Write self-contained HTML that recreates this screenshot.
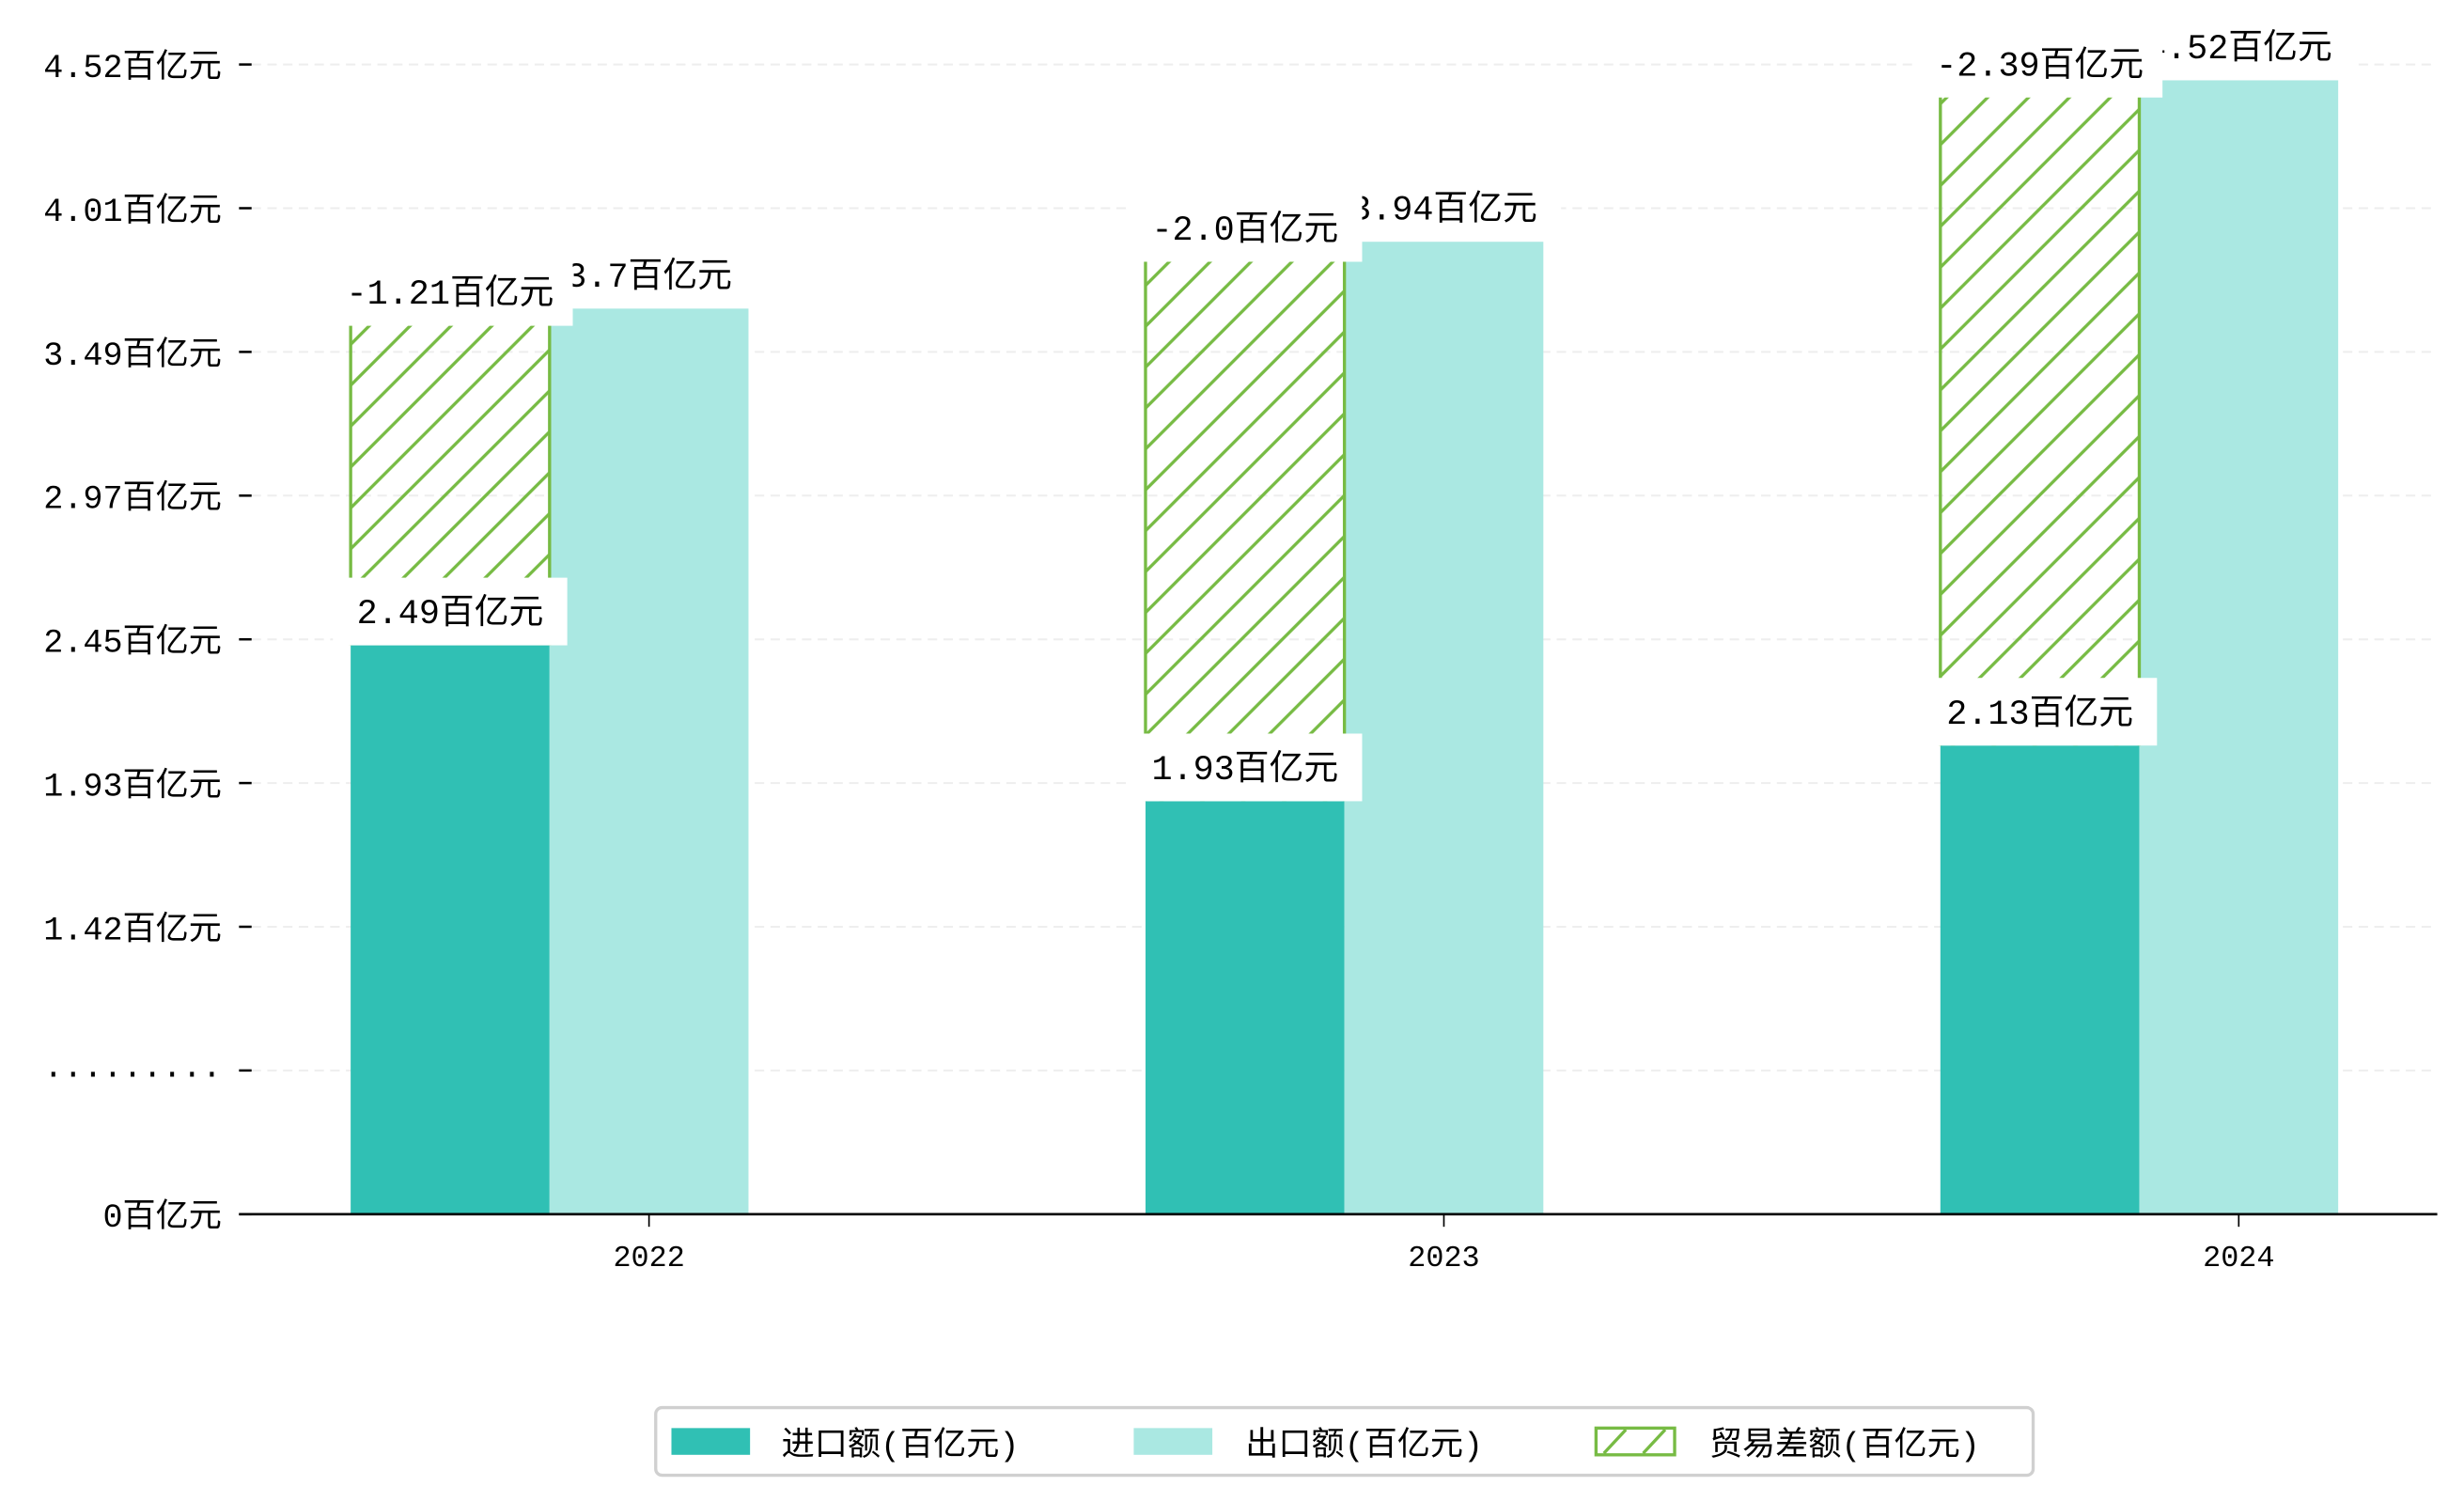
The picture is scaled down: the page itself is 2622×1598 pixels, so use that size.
<!DOCTYPE html>
<html><head><meta charset="utf-8"><style>
html,body{margin:0;padding:0;background:#fff;}
svg{display:block;}
text{font-family:"Liberation Mono","Noto Sans CJK SC",monospace;fill:#000;}
</style></head><body>
<svg id="chart" width="2622" height="1598" viewBox="0 0 1567 955" preserveAspectRatio="none" xmlns="http://www.w3.org/2000/svg">
<defs>
<pattern id="hatch" patternUnits="userSpaceOnUse" width="26" height="26">
<line x1="-2" y1="28" x2="28" y2="-2" stroke="#77bb44" stroke-width="2"/>
<line x1="-15" y1="15" x2="15" y2="-15" stroke="#77bb44" stroke-width="2"/>
<line x1="11" y1="41" x2="41" y2="11" stroke="#77bb44" stroke-width="2"/>
</pattern>
</defs>
<g id="grid"></g><g id="bars"></g><g id="labels"></g><g id="axes"></g>
<g id="legend">
<rect x="417" y="895" width="876" height="43" rx="4" fill="#fff" stroke="#d0d0d0" stroke-width="2"/>
<rect x="427" y="908" width="50" height="17" fill="#30c0b4"/>
<text x="497" y="925" font-size="21">进口额(百亿元)</text>
<rect x="721" y="908" width="50" height="17" fill="#aae8e2"/>
<text x="792" y="925" font-size="21">出口额(百亿元)</text>
<rect x="1015" y="908" width="50" height="17" fill="#fff" stroke="#77bb44" stroke-width="2"/>
<line x1="1020" y1="924" x2="1034" y2="909" stroke="#77bb44" stroke-width="2"/>
<line x1="1045" y1="924" x2="1059" y2="909" stroke="#77bb44" stroke-width="2"/>
<text x="1087" y="925" font-size="21">贸易差额(百亿元)</text>
</g>
</svg>
<script>
const categories = ["2022","2023","2024"];
const imports = [2.49, 1.93, 2.13];
const exports_ = [3.7, 3.94, 4.52];
const balance = [-1.21, -2.0, -2.39];
const yTickLabels = ["0百亿元","·········","1.42百亿元","1.93百亿元","2.45百亿元","2.97百亿元","3.49百亿元","4.01百亿元","4.52百亿元"];

const NS="http://www.w3.org/2000/svg";
const baseY=772, axisL=152, axisR=1550;
function yScale(v){ return 51 + (4.52 - v) * 177; }
function yTick(i){ return baseY - i * (baseY - 41) / (yTickLabels.length - 1); }
function xGroup(i){ return 223 + i * 505.5; }
const bw=126.5;
function mk(tag, attrs, parent){ const e=document.createElementNS(NS,tag); for(const k in attrs) e.setAttribute(k,attrs[k]); parent.appendChild(e); return e; }
const grid=document.getElementById('grid'), bars=document.getElementById('bars'), labels=document.getElementById('labels'), axes=document.getElementById('axes');

yTickLabels.forEach((t,i)=>{
  const y=yTick(i);
  if(i>0){ const g=mk('line',{x1:160,x2:axisR,y1:y,y2:y,stroke:'#eeeeee','stroke-width':1.2,'stroke-dasharray':'6,4'},grid);
      }
  const tk=mk('line',{x1:152,x2:160,y1:y,y2:y,stroke:'#000','stroke-width':1.5},axes);
   
  const tx=mk('text',{x:141,y:y+8,'text-anchor':'end','font-size':21},axes);
  tx.textContent=t;
   
});

function label(txt, cx, bottom, name){
  const w=100+txt.length*7;
  const r=mk('rect',{x:cx-w/2,y:bottom-43,width:w,height:43,fill:'#fff'},labels);
   
  const t=mk('text',{x:cx,y:bottom-14,'text-anchor':'middle','font-size':22},labels);
  t.textContent=txt;
   
}

categories.forEach((c,i)=>{
  const x=xGroup(i);
  const yi=yScale(imports[i]), ye=yScale(exports_[i]), yb=yScale(imports[i]-balance[i]);
  const bi=mk('rect',{x:x,y:yi,width:bw,height:baseY-yi,fill:'#30c0b4'},bars);
   
  const be=mk('rect',{x:x+bw,y:ye,width:bw,height:baseY-ye,fill:'#aae8e2'},bars);
   
  const bb=mk('rect',{x:x,y:yb,width:bw,height:yi-yb,fill:'url(#hatch)'},bars);
   
  const el=mk('line',{x1:x,x2:x,y1:yb,y2:yi,stroke:'#77bb44','stroke-width':2},bars);
   
  const er=mk('line',{x1:x+bw,x2:x+bw,y1:yb,y2:yi,stroke:'#77bb44','stroke-width':2},bars);
   
  label(exports_[i]+'百亿元', x+bw*1.5, ye, 'export-value-label');
  label(balance[i].toFixed(balance[i]*100%10===0?1:2)+'百亿元', x+bw/2, yb+11, 'balance-value-label');
  label(imports[i]+'百亿元', x+bw/2, yi, 'import-value-label');
  const tk=mk('line',{x1:x+bw*1.5,x2:x+bw*1.5,y1:baseY,y2:baseY+8,stroke:'#000','stroke-width':1},axes);
   
  const tl=mk('text',{x:x+bw*1.5,y:baseY+33,'text-anchor':'middle','font-size':19},axes);
  tl.textContent=c;
   
});
const ax=mk('line',{x1:axisL,x2:axisR,y1:baseY,y2:baseY,stroke:'#000','stroke-width':1.6},axes);
 
</script>
</body></html>
